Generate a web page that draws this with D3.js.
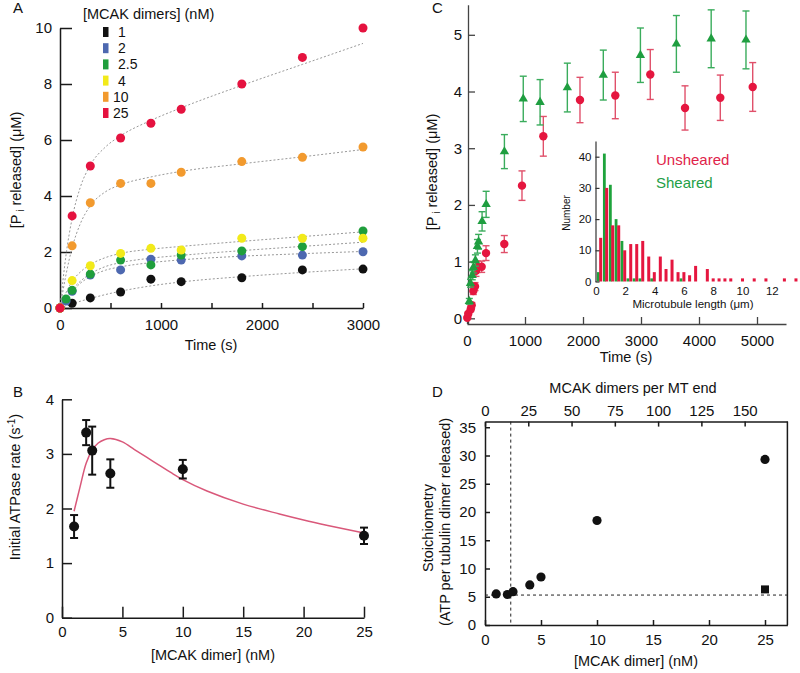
<!DOCTYPE html>
<html>
<head>
<meta charset="utf-8">
<script src="https://cdn.jsdelivr.net/npm/d3@7"></script>
<style>
  body { margin: 0; background: #fff; }
  svg { font-family: "Liberation Sans", Arial, Helvetica, sans-serif; }
  .axis { font-family: "Liberation Sans", Arial, Helvetica, sans-serif; }
  .axis path, .axis line { stroke: #1a1a1a; stroke-width: 1.5; }
  .axis text { font-size: 15px; fill: #111; }
  .inset path, .inset line { stroke: #333; stroke-width: 1.2; }
  .inset text { font-size: 11.5px; }
  .title { font-size: 14.5px; fill: #111; }
  .letter { font-size: 15px; fill: #111; }
</style>
</head>
<body>
<svg id="fig" width="800" height="673"></svg>
<script>
// ---- panel A: Pi release time courses
const timesA = [0, 60, 120, 300, 600, 900, 1200, 1800, 2400, 3000];
const concA = ["1", "2", "2.5", "4", "10", "25"];
const colorsA = ["#111111", "#4d68b0", "#1f9e3c", "#f2ea1a", "#f29a2e", "#e5123f"];
const pointsA = [
  [0, null, 0.17, 0.36, 0.57, 1.03, 0.94, 1.08, 1.36, 1.39],
  [0, 0.25, 0.6, 1.18, 1.36, 1.74, 1.71, 1.86, 1.89, 2.01],
  [0, 0.32, 0.63, 1.21, 1.71, 1.54, 1.89, 2.04, 2.19, 2.75],
  [0, null, 0.98, 1.51, 1.95, 2.13, 2.07, 2.49, 2.49, 2.49],
  [0, null, 2.22, 3.76, 4.45, 4.45, 4.85, 5.23, 5.38, 5.75],
  [0, null, 3.29, 5.07, 6.07, 6.6, 7.1, 8.0, 8.95, 10.0]
];
// dotted fit lines
const fitTimesA = [0, 60, 120, 200, 300, 450, 600, 900, 1200, 1800, 2400, 3000];
const fitA = [
  [0, 0.08, 0.15, 0.24, 0.34, 0.48, 0.6, 0.79, 0.93, 1.12, 1.27, 1.4],
  [0, 0.3, 0.58, 0.88, 1.12, 1.35, 1.47, 1.62, 1.72, 1.85, 1.94, 2.02],
  [0, 0.35, 0.65, 0.95, 1.22, 1.48, 1.62, 1.78, 1.88, 2.05, 2.2, 2.35],
  [0, 0.55, 0.95, 1.28, 1.55, 1.8, 1.95, 2.1, 2.2, 2.38, 2.55, 2.72],
  [0, 1.2, 2.15, 3.0, 3.65, 4.15, 4.4, 4.68, 4.88, 5.15, 5.4, 5.66],
  [0, 1.9, 3.2, 4.3, 5.1, 5.75, 6.15, 6.7, 7.15, 7.95, 8.7, 9.45]
];

// ---- panel B: initial ATPase rate
const concB = [1, 2, 2.5, 4, 10, 25];
const rateB = [1.67, 3.39, 3.06, 2.64, 2.72, 1.5];
const errB = [0.21, 0.23, 0.44, 0.26, 0.17, 0.15];
const fitConcB = [1, 1.5, 2, 2.5, 3, 3.5, 4, 5, 6, 7, 8, 9, 10, 12, 15, 18, 20, 22, 25];
const fitRateB = [1.95, 2.4, 2.83, 3.07, 3.2, 3.26, 3.28, 3.22, 3.08, 2.94, 2.8, 2.66, 2.53, 2.32, 2.08, 1.9, 1.79, 1.69, 1.55];

// ---- panel C: sheared vs unsheared
const shearT = [40, 60, 90, 110, 145, 180, 200, 260, 330, 645, 970, 1260, 1730, 2350, 2990, 3610, 4210, 4810];
const shearY = [0.3, 0.62, 0.76, 0.9, 1.02, 1.27, 1.35, 1.71, 2.01, 2.94, 3.87, 3.81, 4.07, 4.29, 4.64, 4.84, 4.93, 4.91];
const shearErr = [0.05, 0.07, 0.08, 0.1, 0.1, 0.12, 0.13, 0.17, 0.23, 0.3, 0.4, 0.4, 0.43, 0.44, 0.48, 0.5, 0.51, 0.51];
const unshearT = [5, 22, 64, 81, 109, 138, 155, 178, 253, 328, 643, 948, 1316, 1948, 2557, 3160, 3759, 4367, 4926];
const unshearY = [0.01, 0.08, 0.16, 0.23, 0.48, 0.56, 0.84, 0.91, 0.91, 1.15, 1.31, 2.34, 3.21, 3.85, 3.93, 4.3, 3.71, 3.89, 4.08];
const unshearErr = [0.02, 0.03, 0.04, 0.05, 0.06, 0.07, 0.1, 0.1, 0.1, 0.13, 0.15, 0.26, 0.35, 0.4, 0.41, 0.44, 0.39, 0.4, 0.43];

// inset histogram (bar centres in um, counts)
const redBins = [0.32, 0.73, 1.14, 1.55, 1.96, 2.37, 2.78, 3.19, 3.6, 3.98, 4.39, 4.78, 5.19, 5.6, 6.0, 6.39, 6.8, 7.6, 8.0, 8.4, 8.8, 9.2, 10.0, 10.8, 11.6, 12.86, 13.65];
const redCounts = [14, 30, 18, 18, 10, 12, 12, 13, 8, 3, 8, 4, 7, 3, 3, 2, 5, 4, 1, 1, 1, 1, 1, 1, 1, 1, 1];
const greenBins = [0.16, 0.57, 0.98, 1.37, 1.77, 2.18, 2.6, 3.0, 3.8, 5.8];
const greenCounts = [3, 41, 31, 20, 13, 1, 1, 1, 1, 1];

// ---- panel D: stoichiometry
const concD = [1, 2, 2.5, 4, 5, 10, 25];
const stoichD = [5.5, 5.4, 5.9, 7.1, 8.5, 18.5, 29.3];
const squareD = [[25, 6.3]];
const vDashD = 2.3;   // nM
const hDashD = 5.3;
const dimersPerNm = 6.47;

const fmt = d3.format("d");
const svg = d3.select("#fig");
svg.append("rect").attr("width", 800).attr("height", 673).attr("fill", "#fff");

function addAxis(gen, tx, ty, cls) {
  return svg.append("g")
    .attr("class", "axis" + (cls ? " " + cls : ""))
    .attr("transform", "translate(" + tx + "," + ty + ")")
    .call(gen);
}

function label(x, y, txt, opts) {
  opts = opts || {};
  const t = svg.append("text")
    .attr("class", opts.cls || "title")
    .attr("x", x).attr("y", y)
    .attr("text-anchor", opts.anchor || "middle")
    .text(txt);
  if (opts.rotate) t.attr("transform", "rotate(-90," + x + "," + y + ")");
  if (opts.fill) t.style("fill", opts.fill);
  if (opts.size) t.style("font-size", opts.size + "px");
  return t;
}

// ================= A =================
const xA = d3.scaleLinear().domain([0, 3000]).range([60, 363]);
const yA = d3.scaleLinear().domain([0, 10]).range([308, 28]);

addAxis(d3.axisLeft(yA).tickValues([0, 2, 4, 6, 8, 10]).tickFormat(fmt).tickSize(-12).tickSizeOuter(0).tickPadding(8), 60, 0);
addAxis(d3.axisBottom(xA).tickValues(d3.range(0, 3001, 500))
  .tickFormat(d => d % 1000 ? "" : fmt(d)).tickSize(-5).tickSizeOuter(0).tickPadding(11), 0, 308);

const lineA = d3.line().x(d => xA(d[0])).y(d => yA(d[1])).curve(d3.curveMonotoneX);
fitA.forEach(vals => {
  svg.append("path")
    .datum(fitTimesA.map((t, j) => [t, vals[j]]))
    .attr("d", lineA)
    .attr("fill", "none")
    .attr("stroke", "#999")
    .attr("stroke-width", 1)
    .attr("stroke-dasharray", "2,2");
});

concA.forEach((c, i) => {
  const pts = timesA.map((t, j) => [t, pointsA[i][j]]).filter(d => d[1] !== null);
  svg.append("g").selectAll("circle").data(pts).enter().append("circle")
    .attr("cx", d => xA(d[0])).attr("cy", d => yA(d[1]))
    .attr("r", 4.5).attr("fill", colorsA[i]);
});

// legend
label(83, 19, "[MCAK dimers] (nM)", { anchor: "start", size: 14.5 });
concA.forEach((c, i) => {
  const yy = 32 + i * 16.2;
  svg.append("rect").attr("x", 103).attr("y", yy - 5).attr("width", 5.5).attr("height", 10).attr("fill", colorsA[i]);
  const lx = c.split(".")[0].length === 1 ? 118 : 113;
  label(lx, yy + 5, c, { anchor: "start", size: 14 });
});

const tA = svg.append("text").attr("class", "title").attr("text-anchor", "middle")
  .attr("transform", "translate(21,170) rotate(-90)");
tA.append("tspan").text("[P");
tA.append("tspan").attr("dy", 3).style("font-size", "10px").text(" i");
tA.append("tspan").attr("dy", -3).text(" released] (\u03bcM)");
label(211, 350, "Time (s)");
label(13, 13, "A", { anchor: "start", cls: "letter" });

// ================= B =================
const xB = d3.scaleLinear().domain([0, 25]).range([62, 364]);
const yB = d3.scaleLinear().domain([0, 4]).range([617.7, 399.3]);

addAxis(d3.axisLeft(yB).tickValues([0, 1, 2, 3, 4]).tickFormat(fmt).tickSize(-10).tickSizeOuter(0).tickPadding(8), 62, 0);
addAxis(d3.axisBottom(xB).tickValues([0, 5, 10, 15, 20, 25]).tickFormat(fmt).tickSize(-11).tickSizeOuter(0).tickPadding(9), 0, 617.7);

svg.append("path")
  .datum(fitConcB.map((c, j) => [c, fitRateB[j]]))
  .attr("d", d3.line().x(d => xB(d[0])).y(d => yB(d[1])).curve(d3.curveCatmullRom))
  .attr("fill", "none").attr("stroke", "#d9587a").attr("stroke-width", 1.5);

const gB = svg.append("g");
concB.forEach((c, i) => {
  const x = xB(c), y0 = yB(rateB[i] - errB[i]), y1 = yB(rateB[i] + errB[i]);
  gB.append("line").attr("x1", x).attr("x2", x).attr("y1", y0).attr("y2", y1).attr("stroke", "#111").attr("stroke-width", 2);
  [y0, y1].forEach(yy => gB.append("line").attr("x1", x - 4).attr("x2", x + 4).attr("y1", yy).attr("y2", yy).attr("stroke", "#111").attr("stroke-width", 2));
  gB.append("circle").attr("cx", x).attr("cy", yB(rateB[i])).attr("r", 5).attr("fill", "#111");
});

const tB = svg.append("text").attr("class", "title").attr("text-anchor", "middle")
  .attr("transform", "translate(20,487) rotate(-90)");
tB.append("tspan").text("Initial ATPase rate (s");
tB.append("tspan").attr("dy", -5).style("font-size", "10px").text("-1");
tB.append("tspan").attr("dy", 5).text(")");
label(213, 660, "[MCAK dimer] (nM)");
label(13, 397, "B", { anchor: "start", cls: "letter" });

// ================= C =================
const xC = d3.scaleLinear().domain([0, 5500]).range([467, 786]);
const yC = d3.scaleLinear().domain([-0.1, 5.53]).range([324, 4.75]);

const gyC = addAxis(d3.axisLeft(yC).tickValues([0, 1, 2, 3, 4, 5]).tickFormat(fmt).tickSize(-7).tickSizeOuter(0).tickPadding(6), 468, 0);
const gxC = addAxis(d3.axisBottom(xC).tickValues([0, 1000, 2000, 3000, 4000, 5000]).tickFormat(fmt).tickSize(-7).tickSizeOuter(0).tickPadding(11), 0, 324);
[gyC, gxC].forEach(g => g.selectAll("path, line").style("stroke", "#444").style("stroke-width", 1.3));

function errorSeries(ts, ys, es, color, barColor, shape) {
  const g = svg.append("g");
  ts.forEach((t, i) => {
    const x = xC(t), y0 = yC(ys[i] - es[i]), y1 = yC(ys[i] + es[i]);
    g.append("line").attr("x1", x).attr("x2", x).attr("y1", y0).attr("y2", y1).attr("stroke", barColor).attr("stroke-width", 1.4);
    [y0, y1].forEach(yy => g.append("line").attr("x1", x - 3.5).attr("x2", x + 3.5).attr("y1", yy).attr("y2", yy).attr("stroke", barColor).attr("stroke-width", 1.4));
  });
  ts.forEach((t, i) => {
    if (shape === "triangle") {
      g.append("path").attr("d", d3.symbol().type(d3.symbolTriangle).size(38)())
        .attr("transform", "translate(" + xC(t) + "," + yC(ys[i]) + ")").attr("fill", color);
    } else {
      g.append("circle").attr("cx", xC(t)).attr("cy", yC(ys[i])).attr("r", 4.2).attr("fill", color);
    }
  });
}
errorSeries(unshearT, unshearY, unshearErr, "#e5163f", "#e0506a", "circle");
errorSeries(shearT, shearY, shearErr, "#1f9e40", "#3aac5c", "triangle");

const tC = svg.append("text").attr("class", "title").attr("text-anchor", "middle")
  .attr("transform", "translate(437,172) rotate(-90)");
tC.append("tspan").text("[P");
tC.append("tspan").attr("dy", 3).style("font-size", "10px").text(" i");
tC.append("tspan").attr("dy", -3).text(" released] (\u03bcM)");
label(626, 362, "Time (s)");
label(432, 13, "C", { anchor: "start", cls: "letter" });

// inset histogram
const xI = d3.scaleLinear().domain([0, 13.7]).range([596, 796.7]);
const yI = d3.scaleLinear().domain([0, 45]).range([281.5, 141.1]);
svg.append("rect").attr("x", 548).attr("y", 138).attr("width", 252).attr("height", 175).attr("fill", "#fff");

svg.append("g").selectAll("rect").data(greenBins).enter().append("rect")
  .attr("x", (d) => xI(d) - 1.4).attr("width", 2.8)
  .attr("y", (d, i) => yI(greenCounts[i])).attr("height", (d, i) => yI(0) - yI(greenCounts[i]))
  .attr("fill", "#1ea33c");
svg.append("g").selectAll("rect").data(redBins).enter().append("rect")
  .attr("x", (d) => xI(d) - 1.5).attr("width", 3)
  .attr("y", (d, i) => yI(redCounts[i])).attr("height", (d, i) => yI(0) - yI(redCounts[i]))
  .attr("fill", "#e5163f");

addAxis(d3.axisLeft(yI).tickValues([0, 10, 20, 30, 40]).tickFormat(fmt).tickSize(-4).tickSizeOuter(0).tickPadding(4), 595.5, 0, "inset");
addAxis(d3.axisBottom(xI).tickValues([0, 2, 4, 6, 8, 10, 12]).tickFormat(fmt).tickSize(0).tickSizeOuter(0).tickPadding(5), 0, 282, "inset")
  .select(".domain").style("stroke", "none");
label(693, 308, "Microtubule length (\u03bcm)", { size: 11.5 });
label(570, 213, "Number", { rotate: true, size: 10 });
label(656, 165, "Unsheared", { anchor: "start", fill: "#e0234a", size: 15 });
label(656, 188, "Sheared", { anchor: "start", fill: "#23a047", size: 15 });

// ================= D =================
const xD = d3.scaleLinear().domain([0, 27]).range([485, 787.4]);
const xTopD = d3.scaleLinear().domain([0, 27 * dimersPerNm]).range([485, 787.4]);
const yD = d3.scaleLinear().domain([0, 36]).range([625, 421.6]);

addAxis(d3.axisLeft(yD).tickValues(d3.range(0, 36, 5)).tickFormat(fmt).tickSize(-5).tickSizeOuter(0).tickPadding(9), 485, 0);
addAxis(d3.axisBottom(xD).tickValues(d3.range(0, 26, 5)).tickFormat(fmt).tickSize(-5).tickSizeOuter(0).tickPadding(9), 0, 625);
addAxis(d3.axisTop(xTopD).tickValues(d3.range(0, 151, 25)).tickFormat(fmt).tickSize(-5).tickSizeOuter(0).tickPadding(6), 0, 421.6);
svg.append("line").attr("x1", 787.4).attr("x2", 787.4).attr("y1", 421.6).attr("y2", 625)
  .attr("stroke", "#1a1a1a").attr("stroke-width", 1.5);

svg.append("line").attr("x1", xD(vDashD)).attr("x2", xD(vDashD)).attr("y1", 421.6).attr("y2", 625)
  .attr("stroke", "#222").attr("stroke-width", 1).attr("stroke-dasharray", "3,3");
svg.append("line").attr("x1", 485).attr("x2", 787.4).attr("y1", yD(hDashD)).attr("y2", yD(hDashD))
  .attr("stroke", "#222").attr("stroke-width", 1).attr("stroke-dasharray", "3,3");

svg.append("g").selectAll("circle").data(concD).enter().append("circle")
  .attr("cx", d => xD(d)).attr("cy", (d, i) => yD(stoichD[i])).attr("r", 4.6).attr("fill", "#111");
svg.append("g").selectAll("rect").data(squareD).enter().append("rect")
  .attr("x", d => xD(d[0]) - 4).attr("y", d => yD(d[1]) - 4).attr("width", 8).attr("height", 8).attr("fill", "#111");

label(633, 393, "MCAK dimers per MT end");
label(636, 666, "[MCAK dimer] (nM)");
label(433, 528, "Stoichiometry", { rotate: true });
label(450, 522, "(ATP per tubulin dimer released)", { rotate: true });
label(432, 397, "D", { anchor: "start", cls: "letter" });
</script>
</body>
</html>
